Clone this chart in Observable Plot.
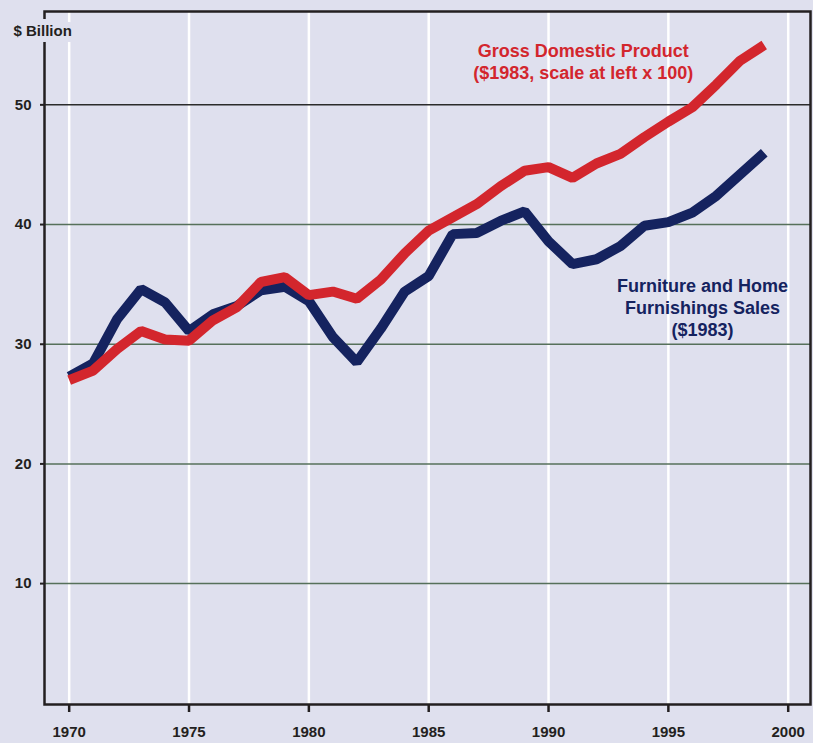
<!DOCTYPE html>
<html>
<head>
<meta charset="utf-8">
<script src="https://cdn.jsdelivr.net/npm/d3@7"></script>
<script src="https://cdn.jsdelivr.net/npm/@observablehq/plot@0.6"></script>
<style>
  html, body { margin: 0; padding: 0; background: #dfe0ee; }
  #chart { width: 813px; height: 743px; }
</style>
</head>
<body>
<div id="chart"></div>
<script>
const years = [1970, 1971, 1972, 1973, 1974, 1975, 1976, 1977, 1978, 1979,
               1980, 1981, 1982, 1983, 1984, 1985, 1986, 1987, 1988, 1989,
               1990, 1991, 1992, 1993, 1994, 1995, 1996, 1997, 1998, 1999];
const furniture = [27.3, 28.4, 32.1, 34.6, 33.5, 31.1, 32.5, 33.2, 34.5, 34.8,
                   33.6, 30.6, 28.5, 31.3, 34.4, 35.7, 39.2, 39.3, 40.3, 41.1,
                   38.6, 36.7, 37.1, 38.2, 39.9, 40.2, 41.0, 42.4, 44.2, 46.0];
const gdp = [27.0, 27.8, 29.6, 31.1, 30.4, 30.3, 32.0, 33.1, 35.2, 35.6,
             34.1, 34.4, 33.8, 35.4, 37.6, 39.5, 40.6, 41.7, 43.2, 44.5,
             44.8, 43.9, 45.1, 45.9, 47.3, 48.6, 49.8, 51.7, 53.7, 55.0];
const xTicks = [1970, 1975, 1980, 1985, 1990, 1995, 2000];
const yTicks = [10, 20, 30, 40, 50];
const yTitle = "$ Billion";
const seriesLabels = [
  {name: "Gross Domestic Product\n($1983, scale at left x 100)", year: 1991.45, value: 53.7, color: "#d3262d"},
  {name: "Furniture and Home\nFurnishings Sales\n($1983)", year: 1996.42, value: 33.1, color: "#15235f"}
];

const bg = "#dfe0ee";
const dark = "#231f20";
const furnData = years.map((y, i) => ({year: y, value: furniture[i]}));
const gdpData = years.map((y, i) => ({year: y, value: gdp[i]}));

const chart = Plot.plot({
  width: 813,
  height: 743,
  marginLeft: 44,
  marginRight: 3,
  marginTop: 11,
  marginBottom: 39,
  style: `background: ${bg}; color: ${dark}; font-family: 'Liberation Sans', Arial, sans-serif; font-weight: bold;`,
  x: {domain: [1968.97, 2000.93]},
  y: {domain: [-0.1, 57.8]},
  marks: [
    Plot.ruleX(xTicks, {stroke: "white", strokeWidth: 2.5}),
    Plot.ruleY(yTicks, {stroke: d => d === 50 ? "#2b2b2b" : "#56705a", strokeWidth: 1.5}),
    Plot.line(furnData, {x: "year", y: "value", stroke: "#15235f", strokeWidth: 10, strokeLinecap: "butt", strokeLinejoin: "miter"}),
    Plot.line(gdpData, {x: "year", y: "value", stroke: "#d3262d", strokeWidth: 10, strokeLinecap: "butt", strokeLinejoin: "miter"}),
    Plot.frame({stroke: dark, strokeWidth: 2.5}),
    Plot.text([yTitle], {frameAnchor: "top-left", dx: -31, dy: 20, text: d => d, textAnchor: "start",
      fontSize: 15, fontWeight: "bold", fill: dark, stroke: bg, strokeWidth: 12, lineAnchor: "middle"}),
    Plot.text(seriesLabels, {x: "year", y: "value", text: "name", fill: "color", fontSize: 18, fontWeight: "bold",
      lineHeight: 1.22, textAnchor: "middle"}),
    Plot.axisY({ticks: yTicks, tickSize: 4, tickPadding: 9, fontSize: 15, strokeWidth: 2, label: null}),
    Plot.axisX({ticks: xTicks, tickFormat: d => String(d), tickSize: 8, tickPadding: 14, fontSize: 15, strokeWidth: 2.5, label: null})
  ]
});
document.getElementById("chart").appendChild(chart);
</script>
</body>
</html>
